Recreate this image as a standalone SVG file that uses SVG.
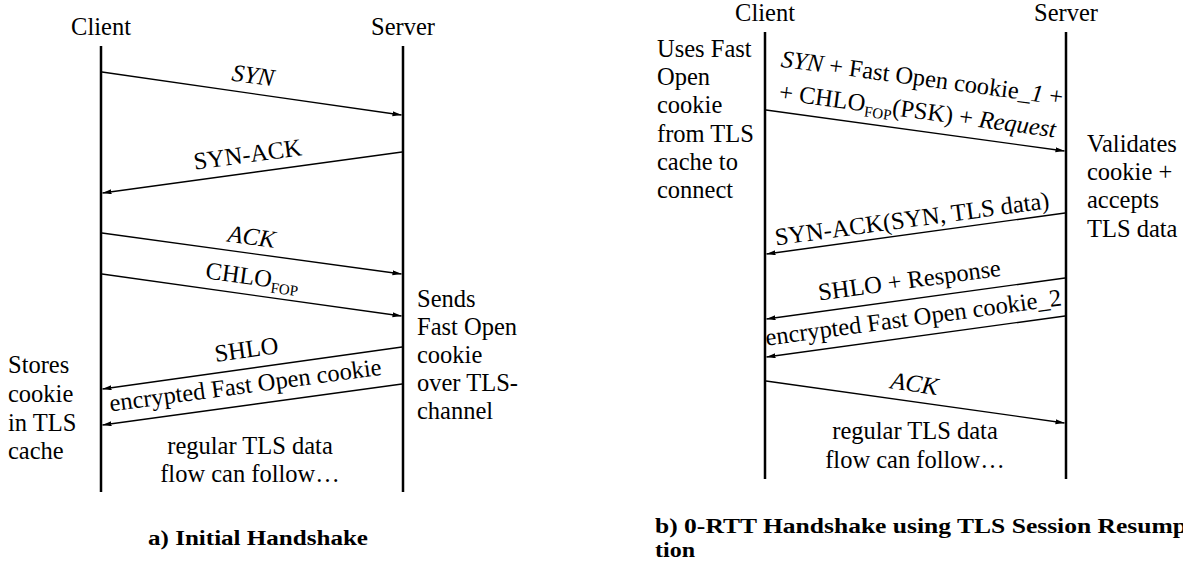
<svg xmlns="http://www.w3.org/2000/svg" width="1183" height="565" viewBox="0 0 1183 565">
  <style>
    text { font-family: "Liberation Serif", "Times New Roman", serif; font-size: 24.5px; fill: #000; }
    .c { text-anchor: middle; }
    .it { font-style: italic; }
    .sub { font-size: 15px; }
    .cap { font-weight: bold; font-size: 20px; }
    .life { stroke: #000; stroke-width: 2.5; fill: none; }
    .msg { stroke: #000; stroke-width: 1.3; fill: none; marker-end: url(#ah); }
  </style>
  <defs>
    <marker id="ah" markerUnits="userSpaceOnUse" markerWidth="10" markerHeight="6" refX="9" refY="2.5" orient="auto">
      <path d="M0,0 L9,2.5 L0,5 Z" fill="#000"/>
    </marker>
  </defs>
  <rect width="1183" height="565" fill="#fff"/>

  <!-- Diagram a -->
  <g id="client-a">
    <text class="c" x="101" y="35">Client</text>
    <line class="life" x1="101" y1="46" x2="101" y2="492"/>
  </g>
  <g id="server-a">
    <text class="c" x="403" y="35">Server</text>
    <line class="life" x1="403" y1="46" x2="403" y2="492"/>
  </g>
  <g id="note-stores">
    <text x="8" y="373">Stores</text>
    <text x="8" y="401.5">cookie</text>
    <text x="8" y="430.5">in TLS</text>
    <text x="8" y="459">cache</text>
  </g>
  <g id="note-sends">
    <text x="417" y="307">Sends</text>
    <text x="417" y="335">Fast Open</text>
    <text x="417" y="363">cookie</text>
    <text x="417" y="391">over TLS-</text>
    <text x="417" y="419">channel</text>
  </g>
  <g id="flow-a">
    <text class="c" x="250" y="454">regular TLS data</text>
    <text class="c" x="250" y="482">flow can follow…</text>
  </g>

  <!-- Diagram b -->
  <g id="client-b">
    <text class="c" x="765" y="21">Client</text>
    <line class="life" x1="765" y1="32" x2="765" y2="479"/>
  </g>
  <g id="server-b">
    <text class="c" x="1066" y="21">Server</text>
    <line class="life" x1="1066" y1="32" x2="1066" y2="479"/>
  </g>
  <g id="note-uses">
    <text x="657" y="56.7">Uses Fast</text>
    <text x="657" y="85">Open</text>
    <text x="657" y="113.3">cookie</text>
    <text x="657" y="141.7">from TLS</text>
    <text x="657" y="170">cache to</text>
    <text x="657" y="198.3">connect</text>
  </g>
  <g id="note-validates">
    <text x="1087" y="151.7">Validates</text>
    <text x="1087" y="180">cookie +</text>
    <text x="1087" y="208.3">accepts</text>
    <text x="1087" y="236.7">TLS data</text>
  </g>
  <g id="flow-b">
    <text class="c" x="915" y="439">regular TLS data</text>
    <text class="c" x="915" y="468">flow can follow…</text>
  </g>

  <g id="connectors">
    <!-- a -->
    <line class="msg" x1="102" y1="72" x2="401.5" y2="115"/>
    <text class="c it" transform="translate(250.5,93.3) rotate(8.1)" y="-10">SYN</text>

    <line class="msg" x1="402" y1="152" x2="102.5" y2="193"/>
    <text class="c" transform="translate(250,172.8) rotate(-7.73)" y="-10.5">SYN-ACK</text>

    <line class="msg" x1="102" y1="233" x2="401.5" y2="274"/>
    <text class="c it" transform="translate(249.5,253.2) rotate(7.73)" y="-8.5">ACK</text>

    <line class="msg" x1="102" y1="274" x2="401.5" y2="316"/>
    <text class="c" transform="translate(250,294.7) rotate(7.92)" y="-10">CHLO<tspan class="sub" dy="5">FOP</tspan></text>

    <line class="msg" x1="402" y1="347" x2="102.5" y2="389"/>
    <text class="c" transform="translate(249,368.4) rotate(-7.92)" y="-11">SHLO</text>

    <line class="msg" x1="402" y1="384" x2="102.5" y2="425"/>
    <text class="c" transform="translate(248,405) rotate(-7.73)" y="-12">encrypted Fast Open cookie</text>

    <!-- b -->
    <line class="msg" x1="766" y1="110" x2="1064.5" y2="151"/>
    <g transform="translate(915,130.4) rotate(7.76)">
      <text class="c" y="-45"><tspan class="it">SYN</tspan> + Fast Open cookie_<tspan class="it">1</tspan> +</text>
      <text class="c" y="-12">+ CHLO<tspan class="sub" dy="5">FOP</tspan><tspan dy="-5">(PSK) + </tspan><tspan class="it">Request</tspan></text>
    </g>

    <line class="msg" x1="1065" y1="213" x2="766.5" y2="254"/>
    <text class="c" transform="translate(914,233.7) rotate(-7.76)" y="-7">SYN-ACK(SYN, TLS data)</text>

    <line class="msg" x1="1065" y1="278" x2="766.5" y2="319"/>
    <text class="c" transform="translate(912,299) rotate(-7.76)" y="-11">SHLO + Response</text>

    <line class="msg" x1="1065" y1="316" x2="766.5" y2="357"/>
    <text class="c" transform="translate(916,336.4) rotate(-7.76)" y="-11">encrypted Fast Open cookie_2</text>

    <line class="msg" x1="766" y1="381" x2="1064.5" y2="423"/>
    <text class="c it" transform="translate(912,401.5) rotate(7.94)" y="-10">ACK</text>
  </g>

  <g id="captions">
    <text class="cap" x="148" y="545" textLength="220" lengthAdjust="spacingAndGlyphs">a) Initial Handshake</text>
    <text class="cap" x="655" y="533" textLength="532" lengthAdjust="spacingAndGlyphs">b) 0-RTT Handshake using TLS Session Resump</text>
    <text class="cap" x="655" y="557" textLength="40" lengthAdjust="spacingAndGlyphs">tion</text>
  </g>
</svg>
